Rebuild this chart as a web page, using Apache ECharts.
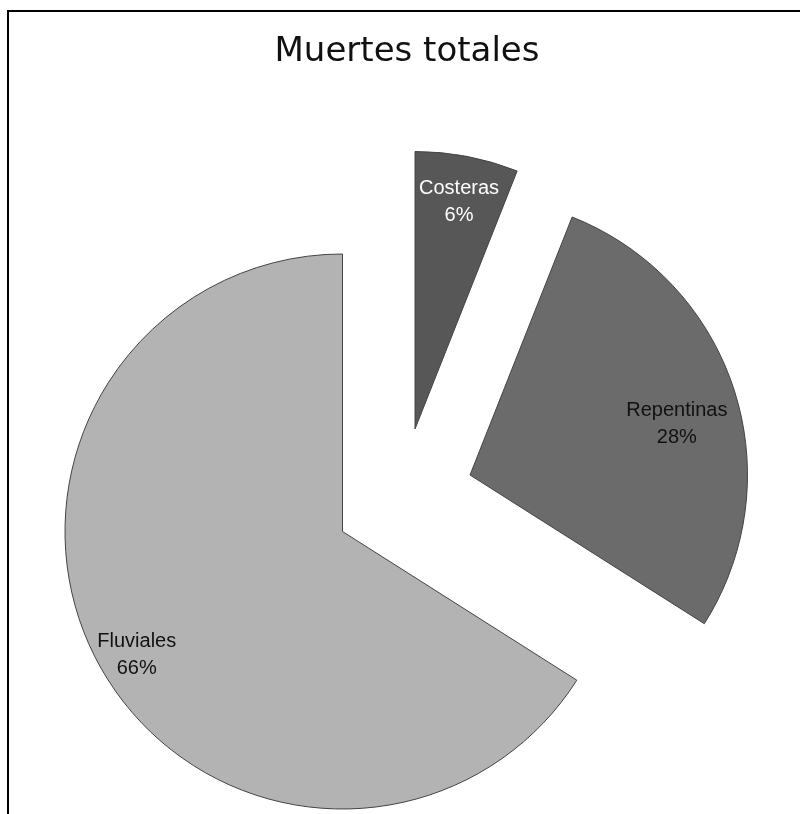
<!DOCTYPE html>
<html>
<head>
<meta charset="utf-8">
<title>Muertes totales</title>
<script src="https://cdn.jsdelivr.net/npm/echarts@6/dist/echarts.min.js"></script>
<style>
  html, body { margin: 0; padding: 0; background: #ffffff; }
  #chart { width: 800px; height: 814px; }
</style>
</head>
<body>
<div id="chart"></div>
<script>
// Flood deaths by type (percent of total)
const categories = ['Costeras', 'Repentinas', 'Fluviales'];
const values = [6, 28, 66];
const chartTitle = 'Muertes totales';

// Drawing style for each slice
const sliceColors = ['#575757', '#6b6b6b', '#b3b3b3'];
const labelColors = ['#ffffff', '#111111', '#111111'];
// Pie centre of each slice (exploded slices sit away from the main centre)
const sliceCenters = [[415, 429], [470, 475], [342.5, 531.5]];
// Label distance from the centre as a fraction of the radius, plus a small nudge
const labelRatio = [0.836, 0.773, 0.86];
const labelNudge = [[0, 4], [0, 16], [6, 7]];
const R = 277.5;

const chart = echarts.init(document.getElementById('chart'), null, { renderer: 'canvas' });

const series = [];
categories.forEach((name, i) => {
  // the slice itself
  series.push({
    type: 'pie',
    center: sliceCenters[i],
    radius: [0, R],
    startAngle: 90,
    clockwise: true,
    silent: true,
    animation: false,
    avoidLabelOverlap: false,
    label: { show: false },
    labelLine: { show: false },
    data: categories.map((c, j) => ({
      name: c,
      value: values[j],
      itemStyle: j === i
        ? { color: sliceColors[j], borderColor: '#444444', borderWidth: 1 }
        : { color: 'rgba(0,0,0,0)', borderWidth: 0 }
    }))
  });
  // a thin invisible ring carrying the slice's label
  const lr = R * labelRatio[i];
  series.push({
    type: 'pie',
    center: sliceCenters[i],
    radius: [lr - 1, lr + 1],
    startAngle: 90,
    clockwise: true,
    silent: true,
    animation: false,
    avoidLabelOverlap: false,
    labelLine: { show: false },
    itemStyle: { color: 'rgba(0,0,0,0)', borderWidth: 0 },
    data: categories.map((c, j) => ({
      name: c,
      value: values[j],
      label: j === i ? {
        show: true,
        position: 'inside',
        formatter: '{b}\n{d}%',
        offset: labelNudge[j],
        color: labelColors[j],
        fontFamily: '"Liberation Sans", Arial, sans-serif',
        fontSize: 20,
        lineHeight: 27,
        align: 'center'
      } : { show: false }
    }))
  });
});

chart.setOption({
  backgroundColor: '#ffffff',
  title: {
    text: chartTitle,
    left: 402,
    top: 30,
    textAlign: 'center',
    textStyle: {
      fontFamily: '"DejaVu Sans", sans-serif',
      fontSize: 34,
      fontWeight: 'normal',
      color: '#111111'
    }
  },
  graphic: [
    {
      type: 'polyline',
      shape: { points: [[8, 814], [8, 11], [800, 11]] },
      style: { stroke: '#000000', lineWidth: 2, fill: null },
      silent: true
    }
  ],
  series: series
});
</script>
</body>
</html>
